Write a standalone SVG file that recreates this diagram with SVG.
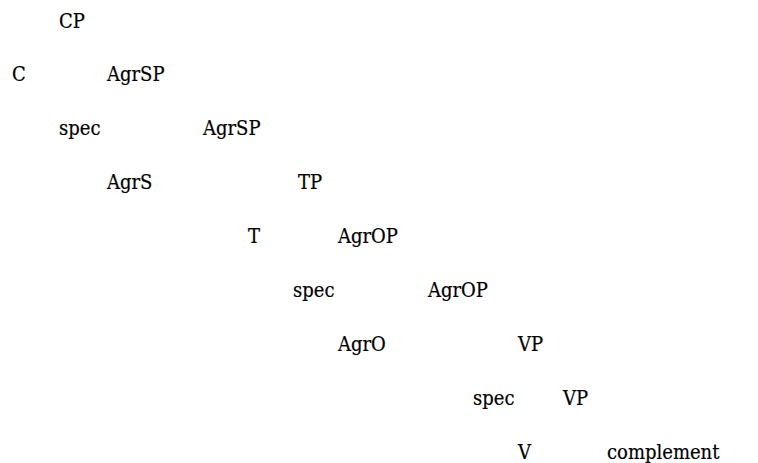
<svg xmlns="http://www.w3.org/2000/svg" width="758" height="463" viewBox="0 0 758 463">
<style>
text{font-family:"DejaVu Serif Condensed","DejaVu Serif",serif;font-stretch:condensed;font-size:20px;fill:#000;stroke:#000;stroke-width:0.2}
</style>
<rect width="758" height="463" fill="#fff"/>
<g id="connectors"></g>
<g id="n-CP"><text x="59" y="28">CP</text></g>
<g id="n-C"><text x="12" y="81">C</text></g>
<g id="n-AgrSP1"><text x="107" y="81">AgrSP</text></g>
<g id="n-spec1"><text x="59" y="135">spec</text></g>
<g id="n-AgrSP2"><text x="203" y="135">AgrSP</text></g>
<g id="n-AgrS"><text x="107" y="189">AgrS</text></g>
<g id="n-TP"><text x="298" y="189">TP</text></g>
<g id="n-T"><text x="248" y="243">T</text></g>
<g id="n-AgrOP1"><text x="338" y="243">AgrOP</text></g>
<g id="n-spec2"><text x="293" y="297">spec</text></g>
<g id="n-AgrOP2"><text x="428" y="297">AgrOP</text></g>
<g id="n-AgrO"><text x="338" y="351">AgrO</text></g>
<g id="n-VP1"><text x="518" y="351">VP</text></g>
<g id="n-spec3"><text x="473" y="405">spec</text></g>
<g id="n-VP2"><text x="563" y="405">VP</text></g>
<g id="n-V"><text x="518" y="459">V</text></g>
<g id="n-complement"><text x="607" y="459">complement</text></g>
</svg>
